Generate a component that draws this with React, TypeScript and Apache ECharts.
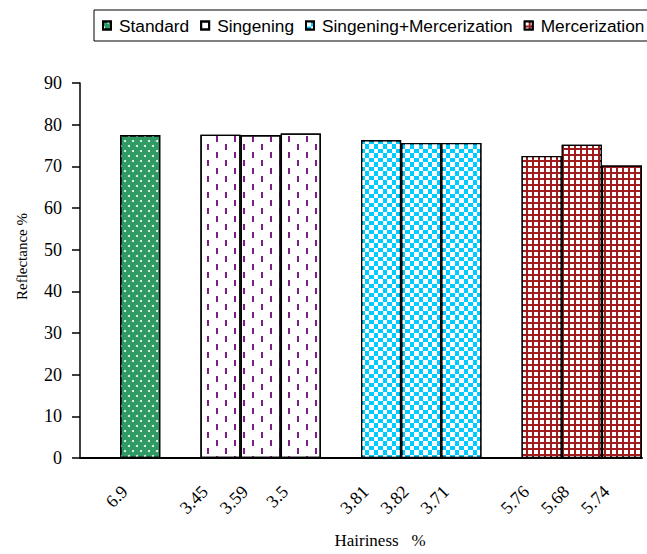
import React, { useEffect, useRef } from "react";
import * as echarts from "echarts";

const seriesNames = ["Standard", "Singening", "Singening+Mercerization", "Mercerization"];
const standardHairiness = ["6.9"];
const standardReflectance = [77.5];
const singeningHairiness = ["3.45", "3.59", "3.5"];
const singeningReflectance = [77.6, 77.5, 77.9];
const singMercHairiness = ["3.81", "3.82", "3.71"];
const singMercReflectance = [76.3, 75.6, 75.6];
const mercHairiness = ["5.76", "5.68", "5.74"];
const mercReflectance = [72.5, 75.2, 70.2];
const yMin = 0;
const yMax = 90;
const yInterval = 10;
const xAxisTitle = "Hairiness   %";
const yAxisTitle = "Reflectance %";

const serif = "Liberation Serif";
const sans = "Liberation Sans";

export default function App() {
  const ref = useRef<HTMLDivElement>(null);
  useEffect(() => {
    if (!ref.current) return;
    const chart = echarts.init(ref.current, null, { renderer: "svg" });
    const groups = [
      { h: standardHairiness, v: standardReflectance },
      { h: singeningHairiness, v: singeningReflectance },
      { h: singMercHairiness, v: singMercReflectance },
      { h: mercHairiness, v: mercReflectance },
    ];
    const categories: string[] = [];
    const seriesData: (number | string)[][] = groups.map(() => []);
    groups.forEach((g, gi) => {
      categories.push(" ".repeat(gi + 1));
      seriesData.forEach((d) => d.push("-"));
      g.h.forEach((label, i) => {
        categories.push(label);
        seriesData.forEach((d, si) => d.push(si === gi ? g.v[i] : "-"));
      });
    });

    const styles = [
      {
        color: "#2F9A63",
        decal: { symbol: "circle", symbolSize: 1, color: "#ffffff", dashArrayX: [[2, 6], [0, 4, 2, 2]], dashArrayY: [2, 3] },
      },
      {
        color: "#ffffff",
        decal: { symbol: "rect", symbolSize: 1, color: "#7D1F86", dashArrayX: [[2, 16], [0, 9, 2, 7]], dashArrayY: [6, 2] },
      },
      {
        color: "#00CCFF",
        decal: { symbol: "rect", symbolSize: 1, color: "#ffffff", dashArrayX: [[5, 4], [0, 5, 4, 0]], dashArrayY: [5, 0, 4, 0] },
      },
      {
        color: "#A01C1C",
        decal: { symbol: "rect", symbolSize: 1, color: "#ffffff", dashArrayX: [4, 2], dashArrayY: [4, 2] },
      },
    ];

    chart.setOption({
      animation: false,
      backgroundColor: "#ffffff",
      legend: {
        data: seriesNames,
        left: 94,
        top: 10,
        width: 600,
        padding: [7, 8, 7, 8],
        borderColor: "#000",
        borderWidth: 1,
        itemWidth: 8,
        itemHeight: 8,
        itemGap: 11,
        icon: "rect",
        textStyle: { fontFamily: sans, fontSize: 17.3, color: "#000", padding: [0, 0, 0, 3] },
      },
      grid: { left: 80, right: 5, top: 83, bottom: 91, containLabel: false },
      xAxis: {
        type: "category",
        data: categories,
        axisLine: { show: true, lineStyle: { color: "#000", width: 2 } },
        axisTick: { show: false },
        axisLabel: {
          interval: 0,
          rotate: 45,
          margin: 15,
          padding: [0, 22, 0, 0],
          fontFamily: serif,
          fontSize: 18,
          color: "#000",
        },
        name: xAxisTitle,
        nameLocation: "middle",
        nameGap: 74,
        nameTextStyle: { fontFamily: serif, fontSize: 17, color: "#000", padding: [0, 0, 0, 38] },
      },
      yAxis: {
        type: "value",
        min: yMin,
        max: yMax,
        interval: yInterval,
        splitLine: { show: false },
        axisLine: { show: true, lineStyle: { color: "#000", width: 1.5 } },
        axisTick: { show: true, inside: false, length: 8, lineStyle: { color: "#000", width: 1.5 } },
        axisLabel: { margin: 18, fontFamily: serif, fontSize: 18, color: "#000" },
        name: yAxisTitle,
        nameLocation: "middle",
        nameGap: 51,
        nameTextStyle: { fontFamily: serif, fontSize: 15, color: "#000", padding: [0, 0, 0, 28] },
      },
      series: seriesNames.map((name, i) => ({
        type: "bar",
        name,
        data: seriesData[i],
        barWidth: "100%",
        barGap: "-100%",
        itemStyle: { color: styles[i].color, borderColor: "#000", borderWidth: 1.3, decal: styles[i].decal },
        emphasis: { disabled: true },
      })),
    });
    return () => chart.dispose();
  }, []);
  return <div ref={ref} style={{ position: "fixed", left: 0, top: 0, width: 647, height: 554 }} />;
}
